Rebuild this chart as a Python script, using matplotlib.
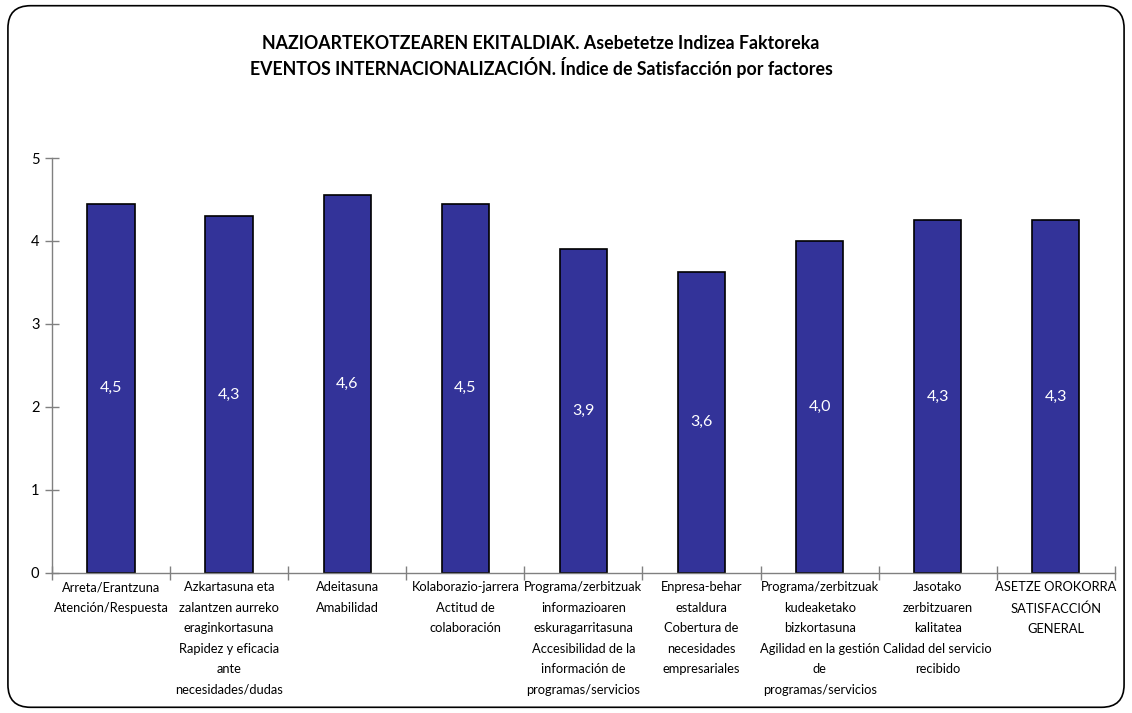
import numpy as np
import matplotlib
matplotlib.use("Agg")
import matplotlib.pyplot as plt
from matplotlib.patches import FancyBboxPatch

plt.rcParams['font.family'] = ['Lato', 'DejaVu Sans']

categories = [
    "Arreta/Erantzuna\nAtención/Respuesta",
    "Azkartasuna eta\nzalantzen aurreko\neraginkortasuna\nRapidez y eficacia\nante\nnecesidades/dudas",
    "Adeitasuna\nAmabilidad",
    "Kolaborazio-jarrera\nActitud de\ncolaboración",
    "Programa/zerbitzuak\ninformazioaren\neskuragarritasuna\nAccesibilidad de la\ninformación de\nprogramas/servicios",
    "Enpresa-behar\nestaldura\nCobertura de\nnecesidades\nempresariales",
    "Programa/zerbitzuak\nkudeaketako\nbizkortasuna\nAgilidad en la gestión\nde\nprogramas/servicios",
    "Jasotako\nzerbitzuaren\nkalitatea\nCalidad del servicio\nrecibido",
    "ASETZE OROKORRA\nSATISFACCIÓN\nGENERAL",
]
values = [4.45, 4.30, 4.55, 4.45, 3.90, 3.63, 4.00, 4.25, 4.25]
value_labels = ["4,5", "4,3", "4,6", "4,5", "3,9", "3,6", "4,0", "4,3", "4,3"]

title = ("NAZIOARTEKOTZEAREN EKITALDIAK. Asebetetze Indizea Faktoreka\n"
         "EVENTOS INTERNACIONALIZACIÓN. Índice de Satisfacción por factores")

fig = plt.figure(figsize=(11.32, 7.13), dpi=100)
ax = fig.add_axes([0.0459, 0.1964, 0.939, 0.582])

x = np.arange(len(values))
bars = ax.bar(x, values, width=0.4, color="#333399", edgecolor="black", linewidth=1.2)

for xi, v, lab in zip(x, values, value_labels):
    ax.text(xi, v / 2, lab, ha="center", va="center", color="white", fontsize=11.5)

ax.set_xlim(-0.5, len(values) - 0.5)
ax.set_ylim(0, 5)
ax.set_yticks(range(0, 6))
ax.tick_params(axis="y", direction="inout", length=10, width=1, color="#808080",
               labelsize=10.5, pad=4)

ax.set_xticks(np.arange(-0.5, len(values)), labels=[""] * (len(values) + 1))
ax.set_xticks(x, labels=categories, minor=True)
ax.tick_params(axis="x", which="major", direction="inout", length=10, width=1, color="#808080")
ax.tick_params(axis="x", which="minor", length=0, labelsize=9.3, pad=6)
for t in ax.get_xticklabels(minor=True):
    t.set_verticalalignment("top")
    t.set_linespacing(1.85)

for s in ["top", "right"]:
    ax.spines[s].set_visible(False)
for s in ["left", "bottom"]:
    ax.spines[s].set_color("#808080")
    ax.spines[s].set_linewidth(1)

fig.text(0.478, 0.921, title, ha="center", va="center", fontsize=12.8,
         fontweight="bold", linespacing=1.3)

border = FancyBboxPatch((0.007, 0.008), 0.986, 0.984, boxstyle="round,pad=0,rounding_size=0.02",
                        transform=fig.transFigure, fill=False, edgecolor="black", linewidth=1.2,
                        mutation_aspect=1.58)
fig.patches.append(border)

fig.savefig("out.png", dpi=100)
